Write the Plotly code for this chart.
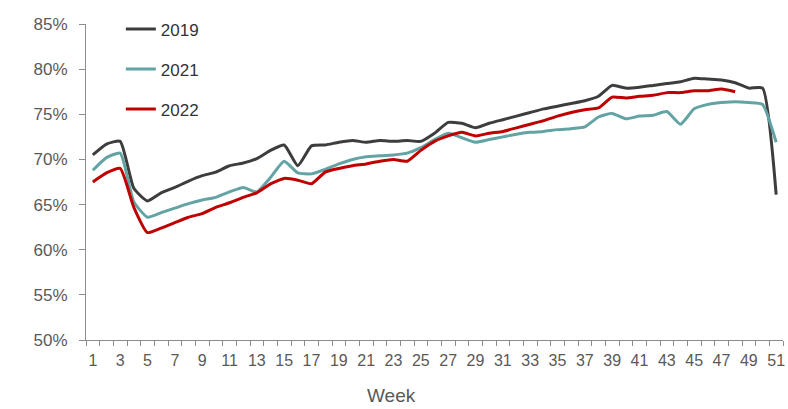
import plotly.graph_objects as go

weeks = list(range(1, 52))

occ_2019 = [70.5, 71.7, 72.0, 66.8, 65.4, 66.3, 66.9, 67.6, 68.2, 68.6,
            69.3, 69.6, 70.1, 71.0, 71.6, 69.3, 71.5, 71.6, 71.9, 72.1,
            71.9, 72.1, 72.0, 72.1, 72.0, 72.9, 74.1, 74.0, 73.5, 74.0,
            74.4, 74.8, 75.2, 75.6, 75.9, 76.2, 76.5, 77.0, 78.2, 77.9,
            78.0, 78.2, 78.4, 78.6, 79.0, 78.9, 78.8, 78.5, 77.9, 77.9,
            66.1]

occ_2021 = [68.8, 70.2, 70.7, 65.3, 63.6, 64.1, 64.6, 65.1, 65.5, 65.8,
            66.4, 66.9, 66.4, 68.0, 69.8, 68.5, 68.4, 68.9, 69.5, 70.0,
            70.3, 70.4, 70.5, 70.7, 71.3, 72.2, 72.9, 72.4, 71.9, 72.2,
            72.5, 72.8, 73.0, 73.1, 73.3, 73.4, 73.6, 74.7, 75.1, 74.5,
            74.8, 74.9, 75.3, 73.9, 75.6, 76.1, 76.3, 76.4, 76.3, 76.1,
            71.9]

occ_2022 = [67.5, 68.5, 69.0, 64.7, 61.9, 62.4, 63.0, 63.6, 64.0, 64.7,
            65.2, 65.8, 66.3, 67.3, 67.9, 67.7, 67.3, 68.6, 69.0, 69.3,
            69.5, 69.8, 70.0, 69.8, 71.0, 72.0, 72.6, 73.0, 72.6, 72.9,
            73.1, 73.5, 73.9, 74.3, 74.8, 75.2, 75.5, 75.7, 76.9, 76.8,
            77.0, 77.1, 77.4, 77.4, 77.6, 77.6, 77.8, 77.5]

series = [
    ("2019", occ_2019, "#3d3d3d"),
    ("2021", occ_2021, "#63a3a3"),
    ("2022", occ_2022, "#c00000"),
]

x_tick_vals = list(range(1, 52, 2))
y_tick_vals = [50, 55, 60, 65, 70, 75, 80, 85]
y_tick_text = [f"{v}%" for v in y_tick_vals]

FONT = "Liberation Sans, Arial, sans-serif"
TEXT = "#595959"
AXIS = "#8c8c8c"

fig = go.Figure()
for name, vals, color in series:
    fig.add_trace(go.Scatter(
        x=weeks[:len(vals)], y=vals, name=name, mode="lines",
        line=dict(color=color, width=3, shape="spline", smoothing=0.5),
        legendgroup=name,
    ))

fig.update_layout(
    width=788, height=409,
    margin=dict(l=86, r=3, t=24, b=69),
    paper_bgcolor="white", plot_bgcolor="white",
    font=dict(family=FONT, color=TEXT, size=16),
    showlegend=True,
    legend=dict(
        x=0.05, y=1.04, xanchor="left", yanchor="top",
        bgcolor="rgba(0,0,0,0)", tracegroupgap=15,
        font=dict(size=17, color="#333333"),
        itemwidth=30,
    ),
    xaxis=dict(
        range=[0.5, 51.5], showgrid=False, zeroline=False,
        showline=True, linecolor=AXIS, linewidth=1,
        tickmode="array", tickvals=x_tick_vals, ticks="",
        tickfont=dict(size=16, color=TEXT),
        ticklabelstandoff=6,
        minor=dict(ticks="outside", tick0=0.5, dtick=1, ticklen=5,
                   tickcolor=AXIS, tickwidth=1, showgrid=False),
    ),
    yaxis=dict(
        range=[50, 85], showgrid=False, zeroline=False,
        showline=True, linecolor=AXIS, linewidth=1,
        tickmode="array", tickvals=y_tick_vals, ticktext=y_tick_text,
        ticks="outside", ticklen=6, tickcolor=AXIS,
        tickfont=dict(size=17, color=TEXT),
        ticklabelstandoff=8,
    ),
    annotations=[dict(
        text="Week", xref="paper", yref="paper",
        x=(392 - 86) / 699, y=-0.175, xanchor="center", yanchor="middle",
        showarrow=False, font=dict(size=19, color=TEXT),
    )],
)

fig.write_html("out.html")
